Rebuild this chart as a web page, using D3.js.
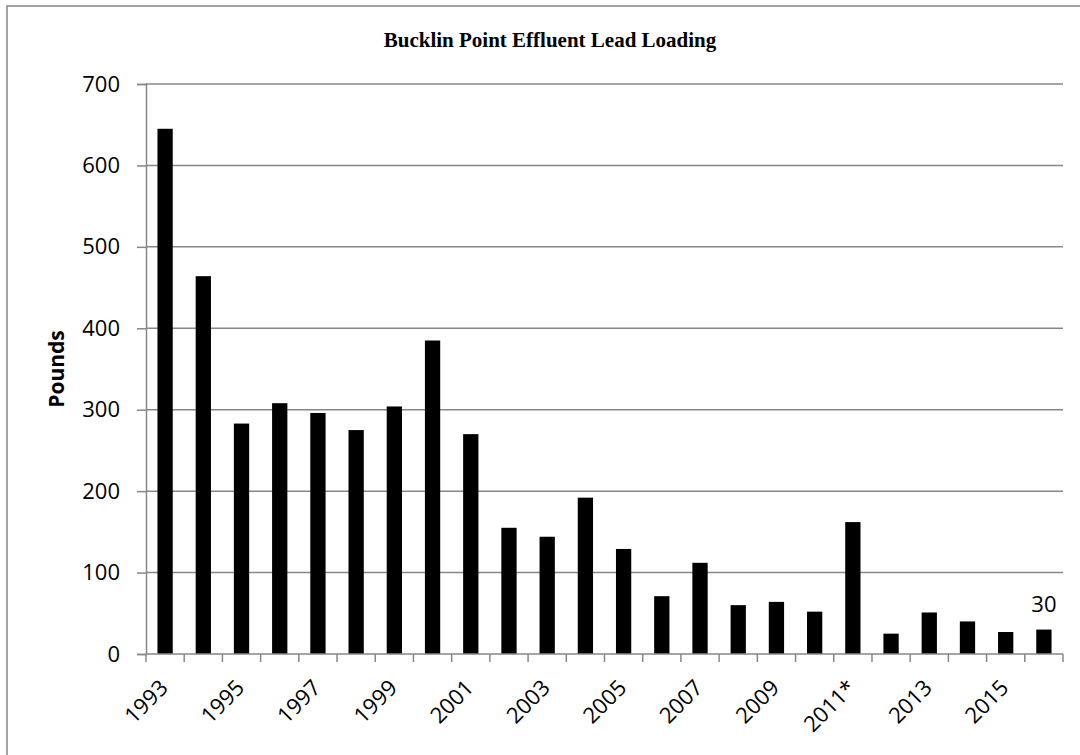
<!DOCTYPE html>
<html>
<head>
<meta charset="utf-8">
<script src="https://cdn.jsdelivr.net/npm/d3@7"></script>
<style>
  html, body { margin: 0; padding: 0; background: #fff; }
  svg { display: block; }
</style>
</head>
<body>
<div id="chart"></div>
<script>
// data
const years = ["1993", "1994", "1995", "1996", "1997", "1998", "1999", "2000",
  "2001", "2002", "2003", "2004", "2005", "2006", "2007", "2008", "2009",
  "2010", "2011*", "2012", "2013", "2014", "2015", "2016"];
const pounds = [645, 464, 283, 308, 296, 275, 304, 385, 270, 155, 144, 192,
  129, 71, 112, 60, 64, 52, 162, 25, 51, 40, 27, 30];
const yTicks = [0, 100, 200, 300, 400, 500, 600, 700];
const shownYears = years.filter((d, i) => i % 2 === 0); // every other year on the axis
const labelled = ["2016"]; // only the last bar carries a value label

const width = 1080, height = 755;
const margin = { top: 84, right: 17, bottom: 101, left: 146 };
const grey = "#878787";
const font = "'Open Sans', 'Liberation Sans', sans-serif";

const svg = d3.select("#chart").append("svg")
  .attr("width", width)
  .attr("height", height);

// outer chart border (runs off the right and bottom edge, like the reference)
svg.append("rect")
  .attr("x", 7).attr("y", 6)
  .attr("width", width + 20).attr("height", height + 20)
  .attr("fill", "none")
  .attr("stroke", grey)
  .attr("stroke-width", 1.5);

const x = d3.scaleBand()
  .domain(years)
  .range([margin.left, width - margin.right])
  .paddingInner(0.6)
  .paddingOuter(0.3);

const y = d3.scaleLinear()
  .domain([0, 700])
  .range([height - margin.bottom, margin.top]);

// gridlines
svg.append("g")
  .selectAll("line")
  .data(yTicks.filter(d => d > 0))
  .join("line")
  .attr("x1", margin.left).attr("x2", width - margin.right)
  .attr("y1", d => y(d)).attr("y2", d => y(d))
  .attr("stroke", grey)
  .attr("stroke-width", 1.5);

// bars
svg.append("g")
  .selectAll("rect")
  .data(years)
  .join("rect")
  .attr("x", d => x(d))
  .attr("y", (d, i) => y(pounds[i]))
  .attr("width", x.bandwidth())
  .attr("height", (d, i) => y(0) - y(pounds[i]))
  .attr("fill", "#000");

// y axis
const yAxis = svg.append("g")
  .attr("transform", `translate(${margin.left},0)`)
  .call(d3.axisLeft(y).tickValues(yTicks).tickSize(9).tickPadding(17));
yAxis.select(".domain").attr("stroke", grey).attr("stroke-width", 1.5);
yAxis.selectAll(".tick line").attr("stroke", grey).attr("stroke-width", 1.5);
yAxis.selectAll(".tick text")
  .attr("font-family", font)
  .attr("font-size", 22)
  .attr("fill", "#000");

// x axis: ticks on band boundaries
const bounds = d3.range(years.length + 1).map(i => margin.left + i * (width - margin.right - margin.left) / years.length);

const xAxis = svg.append("g");
xAxis.append("line")
  .attr("x1", margin.left).attr("x2", width - margin.right)
  .attr("y1", y(0)).attr("y2", y(0))
  .attr("stroke", grey).attr("stroke-width", 1.5);
xAxis.selectAll("line.tk")
  .data(bounds)
  .join("line")
  .attr("class", "tk")
  .attr("x1", d => d).attr("x2", d => d)
  .attr("y1", y(0)).attr("y2", y(0) + 8)
  .attr("stroke", grey).attr("stroke-width", 1.5);

xAxis.selectAll("text")
  .data(shownYears)
  .join("text")
  .attr("transform", d => `translate(${x(d) + x.bandwidth() / 2 - 7},${y(0) + 24}) rotate(-45)`)
  .attr("text-anchor", "end")
  .attr("dy", "0.72em")
  .attr("font-family", font)
  .attr("font-size", 22)
  .attr("fill", "#000")
  .text(d => d);

// value label on the last bar
svg.append("g")
  .selectAll("text")
  .data(labelled)
  .join("text")
  .attr("x", d => x(d) + x.bandwidth() / 2)
  .attr("y", d => y(pounds[years.indexOf(d)]) - 18)
  .attr("text-anchor", "middle")
  .attr("font-family", font)
  .attr("font-size", 22)
  .attr("fill", "#000")
  .text(d => pounds[years.indexOf(d)]);

// axis title
svg.append("text")
  .attr("transform", `translate(64,${(y(0) + y(700)) / 2}) rotate(-90)`)
  .attr("text-anchor", "middle")
  .attr("font-family", font)
  .attr("font-weight", "bold")
  .attr("font-size", 21)
  .attr("fill", "#000")
  .text("Pounds");

// chart title
svg.append("text")
  .attr("x", 550)
  .attr("y", 47)
  .attr("text-anchor", "middle")
  .attr("font-family", "'Liberation Serif', 'Times New Roman', serif")
  .attr("font-weight", "bold")
  .attr("font-size", 21)
  .attr("fill", "#000")
  .text("Bucklin Point Effluent Lead Loading");
</script>
</body>
</html>
